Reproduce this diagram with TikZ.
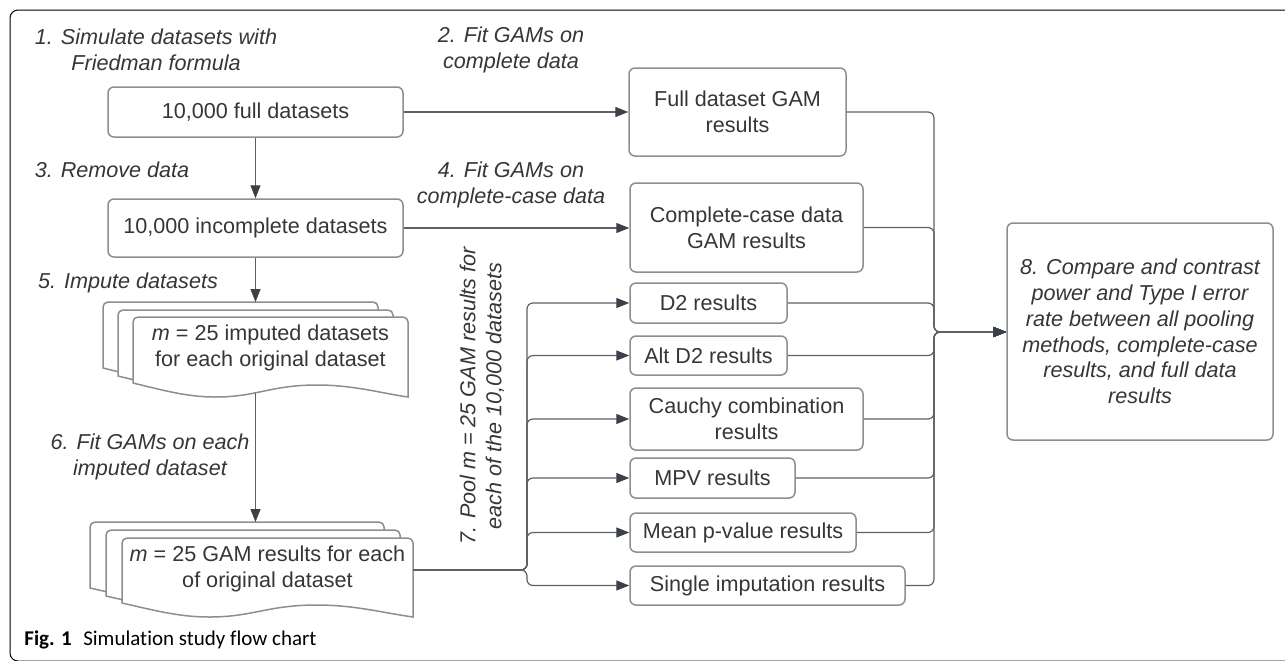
\documentclass[tikz,border=0pt]{standalone}
\usepackage{fontspec}
\setmainfont{Liberation Sans}
\newfontfamily\capfont[Ligatures=NoCommon]{Carlito}
\usetikzlibrary{arrows.meta}

\definecolor{txtgray}{HTML}{363636}
\definecolor{boxgray}{HTML}{8E8E8E}
\definecolor{linegray}{HTML}{5C6067}
\definecolor{tipgray}{HTML}{3B4049}

% one sheet of a stacked document: left, top, right, bottom-left
\newcommand{\docsheet}[4]{%
  \pgfmathsetmacro\dw{#3-#1}%
  \draw[sheet] (#1,#4) [rounded corners=2.5pt] -- (#1,#2) -- (#3,#2) -- (#3,#2+10)
    [sharp corners] -- (#3,#4+14)
    .. controls (#1+0.9*\dw,#4+10) and (#1+0.8*\dw,#4+2) .. (#1+0.67*\dw,#4+2)
    .. controls (#1+0.5*\dw,#4+2) and (#1+0.45*\dw,#4+14) .. (#1+0.3*\dw,#4+14)
    .. controls (#1+0.2*\dw,#4+14) and (#1+0.12*\dw,#4+8) .. (#1,#4) -- cycle;%
}

% a rounded box given by its corners: options, name, left, top, right, bottom, text
\newcommand{\boxat}[7][]{%
  \pgfmathsetmacro\bcx{(#3+#5)/2}%
  \pgfmathsetmacro\bcy{(#4+#6)/2}%
  \pgfmathsetmacro\bw{(#5-#3)*0.5}%
  \pgfmathsetmacro\bh{(#6-#4)*0.5}%
  \node[box, minimum width=\bw pt, minimum height=\bh pt, #1] (#2) at (\bcx,\bcy) {#7};%
}

\tikzset{
  basefont/.style={font=\fontsize{10.8}{13}\selectfont, text=txtgray},
  box/.style={basefont, draw=boxgray, line width=0.75pt, rounded corners=3pt,
    inner sep=0pt, align=center},
  sheet/.style={draw=boxgray, fill=white, line width=0.75pt},
  doctext/.style={basefont, align=center, inner sep=0pt},
  lab/.style={basefont, font=\fontsize{10.8}{13}\selectfont\itshape, align=center, inner sep=0pt},
  conn/.style={draw=linegray, line width=0.6pt,
    -{Triangle[length=6.5pt,width=5pt,color=tipgray]}},
  bus/.style={conn, rounded corners=3pt},
}

\begin{document}
\begin{tikzpicture}[x=0.5pt,y=-0.5pt]
\useasboundingbox (0,0) rectangle (1285,660);

% frame of the figure
\draw[black, line width=0.5pt, rounded corners=4pt] (1300,10) -- (10,10) -- (10,661) -- (1300,661);

% boxes
\boxat{full}{108}{87}{403}{137}{10,000 full datasets}
\boxat{incomp}{108}{199}{403}{257}{10,000 incomplete datasets}
\boxat{fullgam}{629}{68}{846}{156}{Full dataset GAM\\results}
\boxat{ccgam}{630}{183}{863}{272}{Complete-case data\\GAM results}
\boxat{d2}{630}{283}{787}{323}{D2 results}
\boxat{altd2}{630}{336}{787}{375}{Alt D2 results}
\boxat{cauchy}{630}{388}{863}{450}{Cauchy combination\\results}
\boxat{mpv}{630}{458}{795}{498}{MPV results}
\boxat{meanp}{630}{513}{856}{552}{Mean p-value results}
\boxat{single}{630}{566}{905}{605}{Single imputation results}
\boxat[font=\fontsize{10.8}{12.9}\selectfont\itshape]{cmp}{1007}{223}{1273}{440}%
  {8. Compare and contrast\\power and Type I error\\rate between all pooling\\methods, complete-case\\results, and full data\\results}

% stacked documents
\docsheet{103}{302}{378}{368}
\docsheet{118}{310}{393}{376}
\docsheet{133}{317}{408}{383}
\node[doctext] (imp) at (270.5,347.5) {\textit{m} = 25 imputed datasets\\for each original dataset};

\docsheet{90}{522}{384}{588}
\docsheet{106}{530}{400}{596}
\docsheet{122}{538}{413}{603}
\node[doctext] (gams) at (267.5,568.5) {\textit{m} = 25 GAM results for each\\of original dataset};

% step labels
\node[lab] (l1) at (156,50) {1. Simulate datasets with\\Friedman formula};
\node[lab] (l2) at (511,50) {2. Fit GAMs on\\complete data};
\node[lab] (l3) at (112,170) {3. Remove data};
\node[lab] (l4) at (511,185) {4. Fit GAMs on\\complete-case data};
\node[lab] (l5) at (128,283) {5. Impute datasets};
\node[lab] (l6) at (150,457) {6. Fit GAMs on each\\imputed dataset};
\node[lab, rotate=90] (l7) at (482,396) {7. Pool m = 25 GAM results for\\each of the 10,000 datasets};

% caption
\node[anchor=west, inner sep=0pt, font=\capfont\fontsize{10.5}{12}\selectfont, text=black] (cap)
  at (24,640) {\textbf{Fig. 1}\hspace{0.55em}Simulation study flow chart};

% anchor points of the connectors
\coordinate (imptop) at (255.5,302);
\coordinate (impbot) at (255.5,393);
\coordinate (gamtop) at (255.5,522);
\coordinate (gamout) at (413,570);
\coordinate (busL) at (527,570);
\coordinate (busR) at (934,332);

% main column
\draw[conn] (full.south) -- (incomp.north);
\draw[conn] (incomp.south) -- (imptop);
\draw[conn] (impbot) -- (gamtop);
\draw[conn] (full.east) -- (full.east -| fullgam.west);
\draw[conn] (incomp.east) -- (incomp.east -| ccgam.west);

% pooling branches
\foreach \t in {d2,altd2,cauchy,mpv,meanp,single}
  \draw[bus] (gamout) -- (busL) |- (\t.west);

% merge into the comparison
\foreach \s in {fullgam,ccgam,d2,altd2,cauchy,mpv,meanp,single}
  \draw[bus] (\s.east) -| (busR) -- (busR -| cmp.west);
\end{tikzpicture}
\end{document}
